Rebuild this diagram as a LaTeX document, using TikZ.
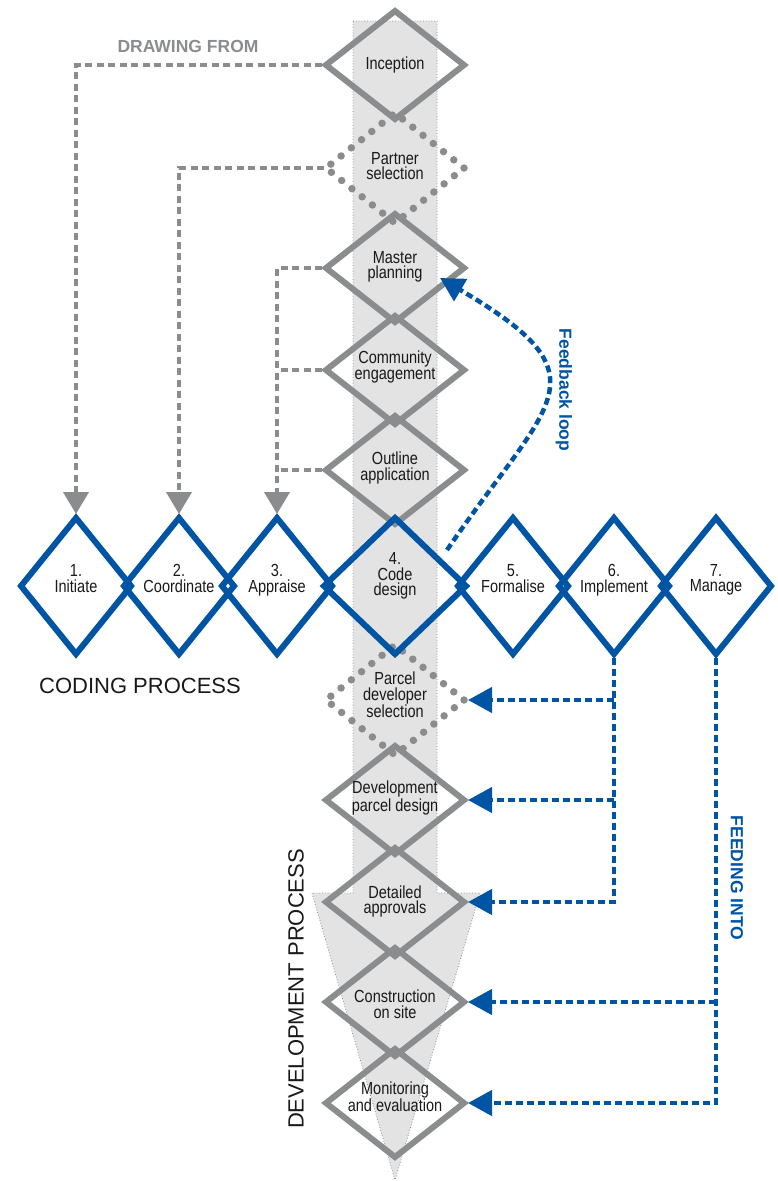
\documentclass[tikz,border=0pt]{standalone}
\usepackage{fontspec}
\setmainfont{Liberation Sans}
\newfontfamily\cond[FakeStretch=0.83]{Liberation Sans}
\usetikzlibrary{arrows.meta,shapes.geometric,calc}
\definecolor{dgray}{RGB}{138,140,142}
\definecolor{dblue}{RGB}{0,84,164}
\definecolor{colfill}{RGB}{227,227,227}
\definecolor{txt}{RGB}{25,25,25}
\begin{document}
\begin{tikzpicture}[x=1pt,y=-1pt,
  gdia/.style={diamond, draw=dgray, line width=6pt, minimum width=138pt, minimum height=108pt, inner sep=0pt, outer sep=0pt},
  gdot/.style={diamond, draw=dgray, line width=7.5pt, dash pattern=on 0pt off 13.1pt, line cap=round, minimum width=138pt, minimum height=110pt, inner sep=0pt, outer sep=0pt},
  bdia/.style={diamond, draw=dblue, line width=6pt, minimum width=110pt, minimum height=136pt, inner sep=0pt, outer sep=0pt},
  lbl/.style={font=\cond\fontsize{17.5}{15.5}\selectfont, align=center, text=txt, inner sep=0pt},
  graydash/.style={draw=dgray, line width=4pt, dash pattern=on 7pt off 4.5pt},
  bluedash/.style={draw=dblue, line width=4.5pt, dash pattern=on 7pt off 4pt},
  garrow/.style={-{Triangle[length=22pt,width=25pt]}},
  barrow/.style={-{Triangle[length=24pt,width=25pt]}},
  bigtitle/.style={font=\fontsize{22}{24}\selectfont, text=txt, inner sep=0pt},
  sidelbl/.style={font=\bfseries\fontsize{17.5}{20}\selectfont, inner sep=0pt}
]
\useasboundingbox (0,0) rectangle (778,1181);
% column / arrow
\fill[colfill] (353,21) -- (437,21) -- (437,893) -- (480,893) -- (395,1180) -- (312,893) -- (353,893) -- cycle;
\draw[dgray, line width=0.8pt, dotted] (353,21) -- (437,21) -- (437,893) -- (480,893) -- (395,1180) -- (312,893) -- (353,893) -- cycle;

% nodes (vertical, gray)
\node[gdia] (inc) at (395,65) {};
\node[gdot] (ps) at (395,168) {};
\node[gdia] (mp) at (395,268) {};
\node[gdia] (ce) at (395,370) {};
\node[gdia] (oa) at (395,470) {};
\node[gdot] (pds) at (395,700) {};
\node[gdia] (dpd) at (395,800) {};
\node[gdia] (det) at (395,902) {};
\node[gdia] (con) at (395,1002) {};
\node[gdia] (mon) at (395,1103) {};

% blue row
\node[bdia] (ini) at (76,586) {};
\node[bdia] (coo) at (179,586) {};
\node[bdia] (app) at (277,586) {};
\node[bdia, minimum width=142pt] (cd) at (395,586) {};
\node[bdia] (frm) at (513,586) {};
\node[bdia] (imp) at (614,586) {};
\node[bdia] (man) at (716,586) {};

% gray drawing-from connectors
\draw[graydash, garrow] ([xshift=-4pt]inc.west) -| ([yshift=4pt]ini.north);
\draw[graydash, garrow] ([xshift=-2pt]ps.west) -| ([yshift=4pt]coo.north);
\draw[graydash, garrow] ([xshift=-4pt]mp.west) -| ([yshift=4pt]app.north);
\draw[graydash] ([xshift=-4pt]ce.west) -- (ce.west -| app.north);
\draw[graydash] ([xshift=-4pt]oa.west) -- (oa.west -| app.north);

% feedback loop
\coordinate (fbs) at (447,550);
\coordinate (fbe) at (440,278);
\draw[bluedash, barrow] (fbs) .. controls (550,399) and (610,378) .. (fbe);

% feeding into connectors
\draw[bluedash, barrow] ([yshift=-4pt]imp.south) |- ([xshift=4pt]det.east);
\draw[bluedash, barrow] (imp.south |- pds.east) -- ([xshift=4pt]pds.east);
\draw[bluedash, barrow] (imp.south |- dpd.east) -- ([xshift=4pt]dpd.east);
\draw[bluedash, barrow] ([yshift=-4pt]man.south) |- ([xshift=4pt]mon.east);
\draw[bluedash, barrow] (man.south |- con.east) -- ([xshift=4pt]con.east);

% labels
\node[lbl] (tinc) at (395,65) {Inception};
\node[lbl] (tps) at (395,166) {Partner\\selection};
\node[lbl] (tmp) at (395,267) {Master\\planning};
\node[lbl] (tce) at (395,367) {Community\\engagement};
\node[lbl] (toa) at (395,468) {Outline\\application};
\node[lbl] (tpds) at (395,695) {Parcel\\developer\\selection};
\node[lbl] (tdpd) at (395,798) {Development\\parcel design};
\node[lbl] (tdet) at (395,901.5) {Detailed\\approvals};
\node[lbl] (tcon) at (395,1004) {Construction\\on site};
\node[lbl] (tmon) at (395,1097) {Monitoring\\and evaluation};

\node[lbl] (tini) at (76,578.5) {1.\\Initiate};
\node[lbl] (tcoo) at (179,578.5) {2.\\Coordinate};
\node[lbl] (tapp) at (277,580) {3.\\Appraise};
\node[lbl] (tcd) at (395,576) {4.\\Code\\design};
\node[lbl] (tfrm) at (513,578.5) {5.\\Formalise};
\node[lbl] (timp) at (614,580) {6.\\Implement};
\node[lbl] (tman) at (716,580) {7.\\Manage};

% titles
\node[bigtitle, anchor=base] (cp) at (140,693) {CODING PROCESS};
\node[bigtitle, rotate=90] (dp) at (296,989) {DEVELOPMENT PROCESS};
\node[sidelbl, text=dgray, anchor=base] (df) at (188,52) {DRAWING FROM};
\node[sidelbl, text=dblue, rotate=-90] (fl) at (564,390) {Feedback loop};
\node[sidelbl, text=dblue, rotate=-90] (fi) at (737,878) {FEEDING INTO};
\end{tikzpicture}
\end{document}
